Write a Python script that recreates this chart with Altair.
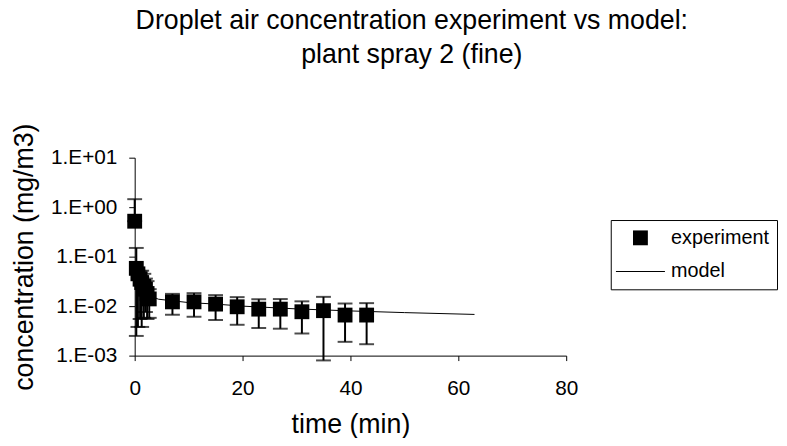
import altair as alt
import pandas as pd

# experiment: time (min), concentration and error bar ends (mg/m3)
t_exp = [0.0, 0.3, 0.6, 1.0, 1.3, 1.7, 2.0, 2.3, 2.7,
         7, 11, 15, 19, 23, 27, 31, 35, 39, 43]
c_exp = [0.52, 0.058, 0.045, 0.035, 0.030, 0.025, 0.022, 0.018, 0.014,
         0.0122, 0.0122, 0.011, 0.0097, 0.0087, 0.0087, 0.0077, 0.0081, 0.0066, 0.0066]
c_lo = [0.52, 0.0025, 0.0038, 0.0055, 0.0038, 0.0058, 0.0076, 0.0055, 0.0058,
        0.0067, 0.0061, 0.00525, 0.0042, 0.0036, 0.0035, 0.0028, 0.0008, 0.0019, 0.0017]
c_hi = [1.45, 0.15, 0.052, 0.05, 0.052, 0.045, 0.036, 0.032, 0.022,
        0.0177, 0.0183, 0.0167, 0.0152, 0.0138, 0.0139, 0.0125, 0.0154, 0.0113, 0.0115]

# model curve
t_mod = [0, 1, 2, 3, 4.4, 10, 15, 20, 30, 40, 50, 63]
c_mod = [0.06, 0.03, 0.02, 0.016, 0.0138, 0.0118, 0.011, 0.0100, 0.0088, 0.0080, 0.0074, 0.0068]

FONT = "Liberation Sans"

exp = pd.DataFrame({"t": t_exp, "c": c_exp, "lo": c_lo, "hi": c_hi, "series": "experiment"})
mod = pd.DataFrame({"t": t_mod, "c": c_mod})

x = alt.X("t:Q", title="time (min)",
          scale=alt.Scale(domain=[0, 80], nice=False),
          axis=alt.Axis(values=[0, 20, 40, 60, 80], labelPadding=17, titlePadding=14))
y_scale = alt.Scale(type="log", domain=[0.001, 10], nice=False)
y_axis = alt.Axis(
    values=[0.001, 0.01, 0.1, 1, 10],
    labelExpr="'1.E' + (datum.value >= 1 ? '+' : '-') + '0' + format(abs(round(log(datum.value) / LN10)), 'd')",
    labelPadding=12, titlePadding=12, tickSize=6
)

base = alt.Chart(exp)

bars = base.mark_rule(color="black", strokeWidth=2).encode(
    x=x,
    y=alt.Y("lo:Q", scale=y_scale, axis=y_axis, title="concentration (mg/m3)"),
    y2="hi:Q"
)
cap_hi = base.mark_tick(color="black", orient="horizontal", size=15, thickness=2).encode(
    x="t:Q", y="hi:Q"
)
cap_lo = base.mark_tick(color="black", orient="horizontal", size=15, thickness=2).encode(
    x="t:Q", y="lo:Q"
)
# legend symbol for the model: a thin filled bar drawn as a path
points = base.mark_point(filled=True, color="black", size=225, opacity=1).encode(
    x="t:Q",
    y="c:Q",
    shape=alt.Shape("series:N",
        scale=alt.Scale(domain=["experiment", "model"],
                        range=["square", "M-3.3,-0.07H3.3V0.07H-3.3Z"]),
        legend=alt.Legend(
            title=None, orient="none", legendX=481, legendY=63,
            padding=8, strokeColor="black", fillColor="white",
            symbolOffset=12, labelOffset=21, rowPadding=14,
            labelFontSize=20, labelFont=FONT, labelColor="black",
            symbolSize=225, symbolStrokeWidth=0,
            symbolFillColor="black"
        ))
)
model = alt.Chart(mod).mark_line(color="black", strokeWidth=1).encode(
    x="t:Q", y="c:Q"
)

chart = alt.layer(bars, cap_hi, cap_lo, model, points).properties(
    width=436,
    height=200,
    autosize="none",
    padding={"left": 128, "top": 149, "right": 215, "bottom": 81},
    title=alt.Title(
        ["Droplet air concentration experiment vs model:", "plant spray 2 (fine)"],
        anchor="middle", frame="group", dx=62, offset=28, baseline="bottom",
        lineHeight=34, fontSize=27, fontWeight="normal", font=FONT, color="black"
    )
).configure_view(
    stroke="transparent"
).configure_axis(
    grid=False,
    domainColor="black", tickColor="black", labelColor="black", titleColor="black",
    labelFont=FONT, titleFont=FONT, labelFontSize=21, titleFontSize=27,
    titleFontWeight="normal", tickSize=5, labelFlush=False, labelOverlap=False
)

chart.save("out.html", embed_options={"renderer": "svg", "actions": False})
